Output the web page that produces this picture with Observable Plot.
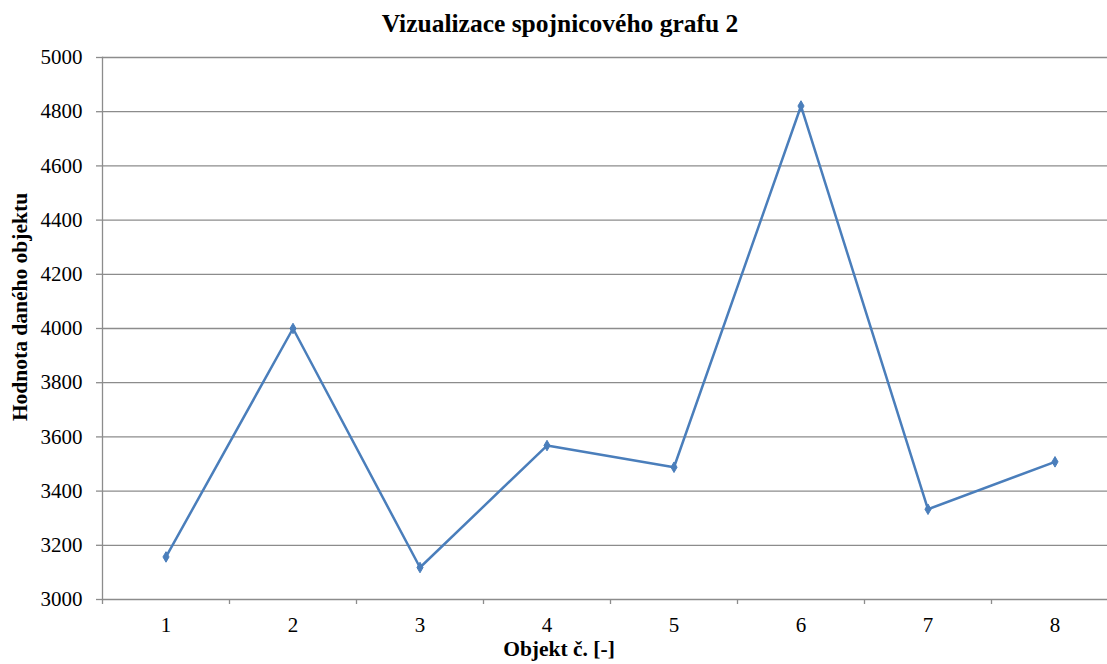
<!DOCTYPE html>
<html>
<head>
<meta charset="utf-8">
<script src="https://cdn.jsdelivr.net/npm/d3@7"></script>
<script src="https://cdn.jsdelivr.net/npm/@observablehq/plot@0.6"></script>
<style>
  html, body { margin: 0; padding: 0; background: #fff; }
  #wrap { position: relative; width: 1107px; height: 664px; overflow: hidden; font-family: 'Liberation Serif', Tinos, 'Times New Roman', 'DejaVu Serif', serif; }
  .lbl { position: absolute; font-weight: bold; color: #000; white-space: nowrap; line-height: 1.15; }
  #title { left: 0; width: 1120px; top: 9px; text-align: center; font-size: 25.5px; }
  #xlabel { left: 0; width: 1118px; top: 637px; text-align: center; font-size: 21.5px; }
  #ylabel { left: 20px; top: 307px; font-size: 21.5px; transform: translate(-50%, -50%) rotate(-90deg); }
</style>
</head>
<body>
<div id="wrap">
  <div id="chart"></div>
  <div class="lbl" id="title">Vizualizace spojnicového grafu 2</div>
  <div class="lbl" id="xlabel">Objekt č. [-]</div>
  <div class="lbl" id="ylabel">Hodnota daného objektu</div>
</div>
<script>
const categories = [1, 2, 3, 4, 5, 6, 7, 8];
const values = [3157, 4000, 3118, 3568, 3488, 4821, 3333, 3508];
const yTicks = [3000, 3200, 3400, 3600, 3800, 4000, 4200, 4400, 4600, 4800, 5000];

const data = categories.map((c, i) => ({ obj: c, value: values[i] }));
const gridColor = "#8c8c8c";
const lineColor = "#4a7ebb";
const serif = "'Liberation Serif', Tinos, 'Times New Roman', 'DejaVu Serif', serif";

const chart = Plot.plot({
  width: 1107,
  height: 664,
  marginTop: 57,
  marginBottom: 65,
  marginLeft: 102,
  marginRight: 0,
  style: { fontFamily: serif, fontSize: "21px", color: "#000", background: "#fff", overflow: "hidden" },
  x: { type: "band", domain: categories, range: [102, 1118], padding: 0 },
  y: { domain: [3000, 5000], range: [599, 57] },
  marks: [
    Plot.ruleY(yTicks, { stroke: gridColor, strokeWidth: 1.3 }),
    Plot.frame({ anchor: "left", stroke: gridColor, strokeWidth: 1.3 }),
    Plot.axisY({ ticks: yTicks, tickFormat: d3.format("d"), tickSize: 6, tickPadding: 14, stroke: gridColor, strokeWidth: 1.3, label: null, fill: "#000", fontSize: 21, fontFamily: serif }),
    Plot.axisX({ tickSize: 5, tickFormat: () => "", dx: -63.5, stroke: gridColor, strokeWidth: 1.3, label: null }),
    Plot.axisX({ tickSize: 0, tickPadding: 18, label: null, fill: "#000", fontSize: 21, fontFamily: serif }),
    Plot.line(data, { x: "obj", y: "value", stroke: lineColor, strokeWidth: 2.5 }),
    Plot.dot(data, { x: "obj", y: "value", symbol: "diamond", r: 3.2, fill: lineColor, stroke: lineColor, strokeWidth: 1 })
  ]
});
document.getElementById("chart").appendChild(chart);
</script>
</body>
</html>
